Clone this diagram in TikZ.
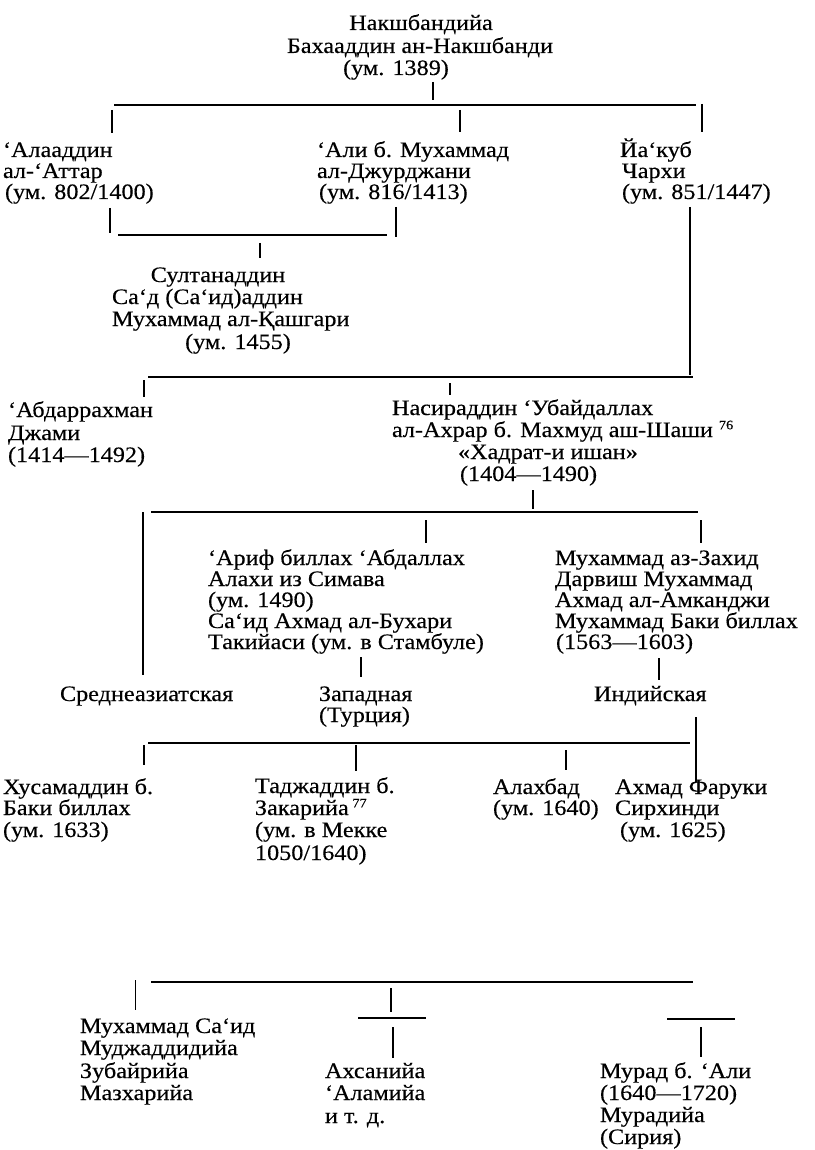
\documentclass[tikz,border=0pt]{standalone}
\usepackage{fontspec}
\setmainfont{Liberation Serif}[FakeStretch=1.1,FakeBold=0.3]
\newcommand\fsz{\fontsize{22}{22}\selectfont}
\newcommand\supn[1]{\raisebox{0.35em}{\fontsize{13}{13}\selectfont #1}}
\begin{document}
\begin{tikzpicture}[x=1pt,y=-1pt,
  every node/.style={inner sep=0pt,outer sep=0pt,font=\fsz},
  ln/.style={anchor=base west},
  lc/.style={anchor=base},
  bar/.style={line width=1.6pt},
  stub/.style={line width=1.2pt},
  thinstub/.style={line width=0.8pt}]
\useasboundingbox (0,0) rectangle (814,1150);
\fill[white] (0,0) rectangle (814,1150);

% ---------- top ----------
\node[lc] (t1) at (421,30) {Накшбандийа};
\node[lc] (t2) at (420,53) {Бахааддин ан-Накшбанди};
\node[lc] (t3) at (396,75) {(ум. 1389)};

\coordinate (s0a) at (433,82);  \coordinate (s0b) at (433,100);
\coordinate (b1l) at (114,105); \coordinate (b1r) at (696,105);
\coordinate (s1a) at (112,110); \coordinate (s1b) at (112,133);
\coordinate (s2a) at (460,110); \coordinate (s2b) at (460,132);
\coordinate (s3a) at (702,104); \coordinate (s3b) at (702,132);
\draw[stub] (s0a) -- (s0b);
\draw[bar] (b1l) -- (b1r);
\draw[stub] (s1a) -- (s1b);
\draw[stub] (s2a) -- (s2b);
\draw[stub] (s3a) -- (s3b);

% ---------- row 2 ----------
\node[ln] (a1) at (3,157) {‘Алааддин};
\node[ln] (a2) at (3,178) {ал-‘Аттар};
\node[ln] (a3) at (5,199) {(ум. 802/1400)};
\node[ln] (m1) at (317,157) {‘Али б. Мухаммад};
\node[ln] (m2) at (317,178) {ал-Джурджани};
\node[ln] (m3) at (319,199) {(ум. 816/1413)};
\node[ln] (y1) at (620,157) {Йа‘куб};
\node[ln] (y2) at (622,178) {Чархи};
\node[ln] (y3) at (622,199) {(ум. 851/1447)};

\coordinate (s4a) at (110,208); \coordinate (s4b) at (110,233);
\coordinate (b2l) at (118,235); \coordinate (b2r) at (387,235);
\coordinate (s5a) at (396,207); \coordinate (s5b) at (396,237);
\coordinate (s6a) at (260,243); \coordinate (s6b) at (260,258);
\coordinate (s7a) at (690,207); \coordinate (s7b) at (690,375);
\draw[stub] (s4a) -- (s4b);
\draw[bar] (b2l) -- (b2r);
\draw[stub] (s5a) -- (s5b);
\draw[stub] (s6a) -- (s6b);
\draw[stub] (s7a) -- (s7b);

% ---------- row 3 ----------
\node[lc] (k1) at (218,282) {Султанаддин};
\node[ln] (k2) at (112,304) {Са‘д (Са‘ид)аддин};
\node[ln] (k3) at (112,326) {Мухаммад ал-Қашгари};
\node[lc] (k4) at (238,349) {(ум. 1455)};

\coordinate (b3l) at (148,377); \coordinate (b3r) at (693,377);
\coordinate (s8a) at (144,380); \coordinate (s8b) at (144,397);
\coordinate (s9a) at (450,383); \coordinate (s9b) at (450,395);
\draw[bar] (b3l) -- (b3r);
\draw[stub] (s8a) -- (s8b);
\draw[stub] (s9a) -- (s9b);

% ---------- row 4 ----------
\node[ln] (j1) at (8,417) {‘Абдаррахман};
\node[ln] (j2) at (8,440) {Джами};
\node[ln] (j3) at (8,462) {(1414—1492)};
\node[ln] (n1) at (392,415) {Насираддин ‘Убайдаллах};
\node[ln] (n2) at (392,437) {ал-Ахрар б. Махмуд аш-Шаши \supn{76}};
\node[ln] (n3) at (458,459) {«Хадрат-и ишан»};
\node[ln] (n4) at (460,481) {(1404—1490)};

\coordinate (s10a) at (533,490); \coordinate (s10b) at (533,509);
\coordinate (b4l) at (151,512);  \coordinate (b4r) at (698,512);
\coordinate (s11a) at (143,512); \coordinate (s11b) at (143,675);
\coordinate (s12a) at (426,520); \coordinate (s12b) at (426,543);
\coordinate (s13a) at (701,520); \coordinate (s13b) at (701,543);
\draw[stub] (s10a) -- (s10b);
\draw[bar] (b4l) -- (b4r);
\draw[stub] (s11a) -- (s11b);
\draw[stub] (s12a) -- (s12b);
\draw[stub] (s13a) -- (s13b);

% ---------- row 5 ----------
\node[ln] (r1) at (208,565) {‘Ариф биллах ‘Абдаллах};
\node[ln] (r2) at (208,586) {Алахи из Симава};
\node[ln] (r3) at (208,607) {(ум. 1490)};
\node[ln] (r4) at (208,628) {Са‘ид Ахмад ал-Бухари};
\node[ln] (r5) at (208,649) {Такийаси (ум. в Стамбуле)};
\node[ln] (z1) at (555,565) {Мухаммад аз-Захид};
\node[ln] (z2) at (555,586) {Дарвиш Мухаммад};
\node[ln] (z3) at (555,607) {Ахмад ал-Амканджи};
\node[ln] (z4) at (555,628) {Мухаммад Баки биллах};
\node[ln] (z5) at (556,649) {(1563—1603)};

\coordinate (s14a) at (361,657); \coordinate (s14b) at (361,677);
\coordinate (s15a) at (659,658); \coordinate (s15b) at (659,680);
\draw[stub] (s14a) -- (s14b);
\draw[stub] (s15a) -- (s15b);

% ---------- row 6 ----------
\node[ln] (g1) at (60,701) {Среднеазиатская};
\node[ln] (g2) at (319,701) {Западная};
\node[ln] (g3) at (319,722) {(Турция)};
\node[ln] (g4) at (594,701) {Индийская};

\coordinate (s16a) at (696,717); \coordinate (s16b) at (696,782);
\coordinate (b5l) at (148,743);  \coordinate (b5r) at (690,743);
\coordinate (s17a) at (144,745); \coordinate (s17b) at (144,765);
\coordinate (s18a) at (356,745); \coordinate (s18b) at (356,771);
\coordinate (s19a) at (566,750); \coordinate (s19b) at (566,770);
\draw[stub] (s16a) -- (s16b);
\draw[bar] (b5l) -- (b5r);
\draw[stub] (s17a) -- (s17b);
\draw[stub] (s18a) -- (s18b);
\draw[stub] (s19a) -- (s19b);

% ---------- row 7 ----------
\node[ln] (h1) at (3,794) {Хусамаддин б.};
\node[ln] (h2) at (3,815) {Баки биллах};
\node[ln] (h3) at (3,837) {(ум. 1633)};
\node[ln] (d1) at (255,793) {Таджаддин б.};
\node[ln] (d2) at (255,815) {Закарийа\,\supn{77}};
\node[ln] (d3) at (255,837) {(ум. в Мекке};
\node[ln] (d4) at (255,860) {1050/1640)};
\node[ln] (l1) at (493,794) {Алахбад};
\node[ln] (l2) at (493,815) {(ум. 1640)};
\node[ln] (f1) at (615,794) {Ахмад Фаруки};
\node[ln] (f2) at (615,815) {Сирхинди};
\node[ln] (f3) at (620,837) {(ум. 1625)};

% ---------- row 8 ----------
\coordinate (b6l) at (151,982);  \coordinate (b6r) at (693,982);
\coordinate (s20a) at (135,980); \coordinate (s20b) at (135,1010);
\coordinate (s21a) at (391,988); \coordinate (s21b) at (391,1012);
\coordinate (b7l) at (358,1018); \coordinate (b7r) at (426,1018);
\coordinate (s22a) at (393,1027); \coordinate (s22b) at (393,1058);
\coordinate (b8l) at (667,1019); \coordinate (b8r) at (735,1019);
\coordinate (s23a) at (701,1027); \coordinate (s23b) at (701,1057);
\draw[bar] (b6l) -- (b6r);
\draw[thinstub] (s20a) -- (s20b);
\draw[stub] (s21a) -- (s21b);
\draw[bar] (b7l) -- (b7r);
\draw[stub] (s22a) -- (s22b);
\draw[bar] (b8l) -- (b8r);
\draw[stub] (s23a) -- (s23b);

\node[ln] (u1) at (80,1033) {Мухаммад Са‘ид};
\node[ln] (u2) at (80,1055) {Муджаддидийа};
\node[ln] (u3) at (80,1078) {Зубайрийа};
\node[ln] (u4) at (80,1100) {Мазхарийа};
\node[ln] (x1) at (325,1078) {Ахсанийа};
\node[ln] (x2) at (325,1100) {‘Аламийа};
\node[ln] (x3) at (325,1123) {и т. д.};
\node[ln] (w1) at (600,1078) {Мурад б. ‘Али};
\node[ln] (w2) at (600,1100) {(1640—1720)};
\node[ln] (w3) at (600,1122) {Мурадийа};
\node[ln] (w4) at (600,1144) {(Сирия)};
\end{tikzpicture}
\end{document}
